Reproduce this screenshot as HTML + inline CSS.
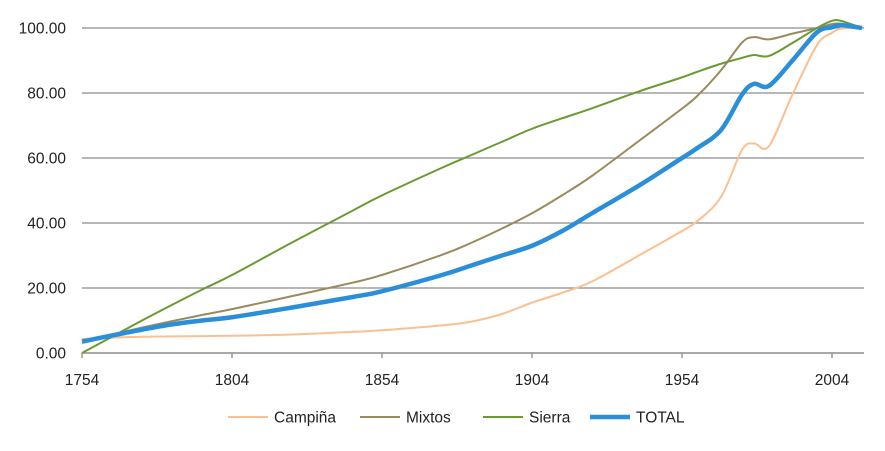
<!DOCTYPE html>
<html><head><meta charset="utf-8"><style>
body{margin:0;background:#fff;font-family:"Liberation Sans",sans-serif}
svg text{font-family:"Liberation Sans",sans-serif;font-size:15.5px;fill:#222}
</style></head><body>
<svg id="c" width="885" height="446"></svg>
<script>
const years=[1754,1764,1774,1784,1794,1804,1824,1844,1854,1874,1884,1894,1904,1914,1924,1940,1953,1959,1967,1974,1978,1983,1991,1999,2004,2007,2014];
const campina=[4.3,4.7,5,5.1,5.2,5.3,5.7,6.5,7,8.5,9.7,12,15.5,18.5,22,30.2,37,40.5,48,62.5,64.5,63.7,79.9,94.8,98.5,99.8,100];
const mixtos=[3.5,5.7,7.8,9.8,11.7,13.5,17.5,21.6,24,30.2,34,38.3,43,48.5,54.5,65.5,74.5,79,87,95.5,97.2,96.5,98.3,100,101.2,101.3,100];
const sierra=[0,5,10,14.8,19.5,24,34,43.7,48.5,57,61,65,69,72.2,75.3,80.6,84.5,86.5,89,90.8,91.7,91.4,95.5,100,102.2,102.2,100];
const total=[3.5,5.4,7.2,8.8,10,11,14,17.2,19,24,27,30,33,37.5,43,51.7,59.4,63,68.6,79.5,82.8,82.2,90.2,98.7,100.2,100.9,100];
const yTicks=[0,20,40,60,80,100];
const xTicks=[1754,1804,1854,1904,1954,2004];
const series=[["Campiña",campina,"#fbc08f",2],["Mixtos",mixtos,"#9b8a5c",2],["Sierra",sierra,"#6a9a32",2],["TOTAL",total,"#2a8fd8",4.5]];
const NS="http://www.w3.org/2000/svg",svg=document.getElementById('c');
const X=y=>82+(y-1754)*3, Y=v=>353-v*3.25;
function mk(t,a,p){const e=document.createElementNS(NS,t);for(const k in a)e.setAttribute(k,a[k]);(p||svg).appendChild(e);return e;}
yTicks.forEach(v=>{
 if(v>0){const g=mk('line',{x1:82,x2:864,y1:Y(v),y2:Y(v),stroke:'#8c8c8c','stroke-width':1.3});
 
 }
 const t=mk('text',{x:66,y:Y(v)+5.5,'text-anchor':'end'});t.textContent=v.toFixed(2);
 
 
});
const ax=mk('line',{x1:82,x2:864,y1:353,y2:353,stroke:'#8c8c8c','stroke-width':1.5});


xTicks.forEach(y=>{
 mk('line',{x1:X(y),x2:X(y),y1:353,y2:358,stroke:'#8c8c8c','stroke-width':1.3});
 const t=mk('text',{x:X(y),y:385,'text-anchor':'middle'});t.textContent=y;
 
 
});
function path(vals){const p=years.map((y,i)=>[X(y),Y(vals[i])]);let d='M'+p[0];
 for(let i=0;i<p.length-1;i++){const p0=p[i-1]||p[i],p1=p[i],p2=p[i+1],p3=p[i+2]||p2;
 d+=' C'+(p1[0]+(p2[0]-p0[0])/6)+','+(p1[1]+(p2[1]-p0[1])/6)+' '+(p2[0]-(p3[0]-p1[0])/6)+','+(p2[1]-(p3[1]-p1[1])/6)+' '+p2;}return d;}
const lx=[228,360,483,590];
series.forEach((s,i)=>{
 const l=mk('path',{d:path(s[1]),fill:'none',stroke:s[2],'stroke-width':s[3],'stroke-linejoin':'round'});
 
 
 const g=mk('g',{});
 
 
 mk('line',{x1:lx[i],x2:lx[i]+40,y1:417,y2:417,stroke:s[2],'stroke-width':s[3]},g);
 const t=mk('text',{x:lx[i]+46,y:422.5},g);t.textContent=s[0];
});
</script>
</body></html>
